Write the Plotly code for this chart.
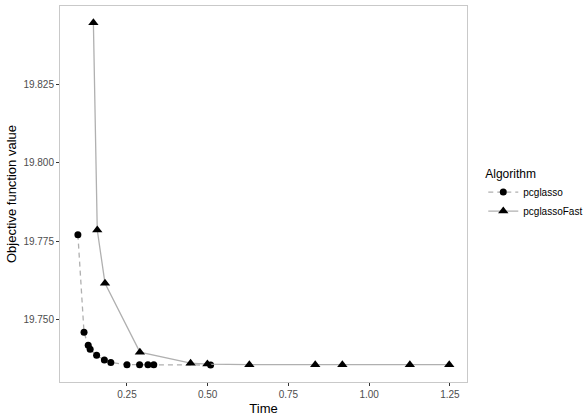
import plotly.graph_objects as go

# pcglasso iterations
pcg_time = [0.098, 0.117, 0.130, 0.136, 0.156, 0.180, 0.200, 0.250, 0.289, 0.315, 0.333, 0.509]
pcg_value = [19.7771, 19.7460, 19.7419, 19.7406, 19.7387, 19.7372, 19.7364, 19.7357, 19.7357, 19.7357, 19.7357, 19.7356]

# pcglassoFast iterations
fast_time = [0.146, 0.158, 0.182, 0.290, 0.447, 0.499, 0.629, 0.833, 0.917, 1.126, 1.248]
fast_value = [19.8446, 19.7786, 19.7616, 19.7397, 19.7362, 19.7359, 19.7357, 19.7357, 19.7357, 19.7357, 19.7357]

LINE = "#b0b0b0"
BORDER = "#c9c9c9"
TEXT = "#4d4d4d"
FONT = "Liberation Sans, Arial, sans-serif"

fig = go.Figure()
fig.add_trace(go.Scatter(
    x=pcg_time, y=pcg_value, mode="lines+markers", name="pcglasso",
    line=dict(color=LINE, width=1.3, dash="5px,4px"),
    marker=dict(symbol="circle", size=7, color="black"),
))
fig.add_trace(go.Scatter(
    x=fast_time, y=fast_value, mode="lines+markers", name="pcglassoFast",
    line=dict(color=LINE, width=1.3),
    marker=dict(symbol="triangle-up", size=9, color="black"),
))

axis_common = dict(
    showgrid=False, zeroline=False, showline=True, mirror=True,
    linecolor=BORDER, linewidth=1, ticks="outside", ticklen=3,
    tickcolor="#333333", tickfont=dict(size=10, color=TEXT), automargin=False,
)
fig.update_xaxes(
    title=dict(text="Time", font=dict(size=13, color="black"), standoff=4),
    range=[0.0426, 1.303], tickvals=[0.25, 0.5, 0.75, 1.0, 1.25],
    ticktext=["0.25", "0.50", "0.75", "1.00", "1.25"], **axis_common,
)
fig.update_yaxes(
    title=dict(text="Objective function value", font=dict(size=13, color="black"), standoff=3),
    range=[19.7302, 19.8499], tickvals=[19.75, 19.775, 19.8, 19.825],
    ticktext=["19.750", "19.775", "19.800", "19.825"], **axis_common,
)
fig.update_layout(
    width=588, height=420,
    margin=dict(l=60, r=121, t=6, b=38, autoexpand=False),
    paper_bgcolor="white", plot_bgcolor="white",
    font=dict(family=FONT, color="black"),
    legend=dict(
        title=dict(text="Algorithm", font=dict(size=12, color="black")),
        x=1.04, xanchor="left", y=0.5, yanchor="middle",
        font=dict(size=10, color="black"), tracegroupgap=0, itemwidth=30,
    ),
)
fig.write_html("out.html", config={"displayModeBar": False},
               post_script="document.body.style.margin='0';")
